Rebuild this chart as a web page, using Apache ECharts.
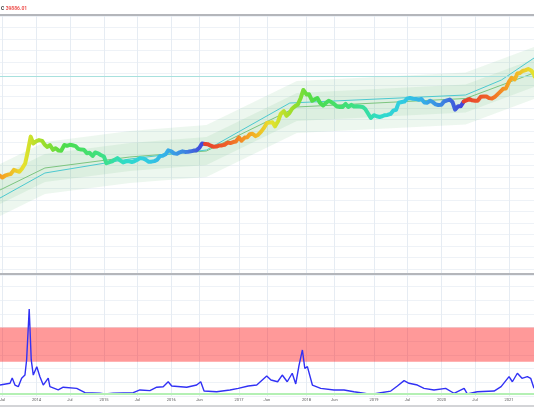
<!DOCTYPE html>
<html>
<head>
<meta charset="utf-8">
<title>BTC cycle chart</title>
<script src="https://cdn.jsdelivr.net/npm/echarts@6/dist/echarts.min.js"></script>
<style>
  html, body { margin: 0; padding: 0; background: #ffffff; }
  #chart { width: 534px; height: 419px; }
</style>
</head>
<body>
<div id="chart"></div>
<script>
// visible time window
var axisStart = '2013-06-18';
var axisEnd = '2021-05-16';

// time axis labels
var tickDates = ['2013-07-01', '2014-01-01', '2014-07-01', '2015-01-01', '2015-07-01', '2016-01-01',
  '2016-06-01', '2017-01-01', '2017-06-01', '2018-01-01', '2018-06-01', '2019-01-01',
  '2019-07-01', '2020-01-01', '2020-07-01', '2021-01-01'];
var tickLabels = ['Jul', '2014', 'Jul', '2015', 'Jul', '2016', 'Jun', '2017', 'Jun', '2018', 'Jun', '2019',
  'Jul', '2020', 'Jul', '2021'];

// halving dates, used for the rainbow colouring of price
var halvings = ['2012-11-28', '2016-07-09', '2020-05-11', '2024-04-20'];

// price, 1st and 15th of each month
var price2013 = [100, 88, 98, 105, 108, 140, 132, 125, 150, 205, 420, 1050, 690];
var price2014 = [800, 850, 810, 640, 560, 630, 470, 520, 450, 447, 630, 600,
  640, 620, 590, 500, 477, 475, 385, 395, 325, 400, 380, 345];
var price2015 = [315, 210, 225, 235, 260, 285, 245, 220, 235, 237, 225, 235,
  258, 285, 280, 260, 228, 230, 238, 255, 325, 330, 360, 455];
var price2016 = [430, 380, 370, 405, 430, 415, 417, 430, 450, 455, 535, 690,
  675, 665, 605, 570, 575, 608, 615, 640, 730, 710, 755, 780];
var price2017 = [1000, 820, 990, 1010, 1220, 1250, 1080, 1180, 1420, 1750, 2400, 2450,
  2500, 1950, 2720, 4200, 4900, 3700, 4400, 5700, 6700, 7300, 10900, 17700];
var price2018 = [13500, 13600, 9200, 10100, 10900, 8200, 6900, 8000, 9200, 8500, 7500, 6500,
  6350, 6300, 7600, 6300, 7200, 6500, 6600, 6500, 6350, 5600, 4200, 3250];
var price2019 = [3850, 3600, 3450, 3600, 3850, 3900, 4150, 5050, 5350, 8200, 8550, 8800,
  10600, 10900, 10400, 10300, 9750, 10300, 8300, 8150, 9200, 8500, 7400, 7100];
var price2020 = [7200, 8800, 9400, 9900, 8550, 5350, 6650, 6650, 8800, 9400, 10200, 9450,
  9230, 9200, 11800, 11900, 11900, 10800, 10600, 11500, 13750, 16000, 19100, 19400];
var price2021 = [29400, 36800, 33500, 48000, 49600, 56000, 59000, 63000, 57800, 46700];
var lastDate = '2021-05-19';
var lastClose = 39886.01;

// channel around price (kinks of the model)
var bandDates = ['2013-06-18', '2014-02-16', '2015-05-21', '2016-07-09', '2017-11-10', '2020-05-11', '2021-05-16'];
var bandMid = [41.3, 156.6, 305, 438.5, 6310, 10570, 49500];
var bandOuterHigh = [200, 757, 1472, 2118, 30480, 51050, 239300];
var bandInnerHigh = [96.4, 365.6, 711, 1023, 14720, 24660, 115600];
var bandInnerLow = [17.7, 67.1, 130.6, 187.9, 2704, 4529, 21230];
var bandOuterLow = [8.55, 32.4, 63.1, 90.8, 1306, 2188, 10250];

var tealDates = ['2013-06-18', '2014-02-16', '2015-05-21', '2016-07-09', '2017-10-03', '2020-05-11', '2020-11-21', '2021-05-16'];
var tealValues = [25.4, 115.6, 270, 466, 8035, 13060, 32400, 122800];

// lower pane oscillator
var oscDates = ['2013-06-18', '2013-08-11', '2013-08-23', '2013-09-07', '2013-09-25', '2013-10-13', '2013-10-31',
  '2013-11-09', '2013-11-23', '2013-12-04', '2013-12-15', '2014-01-03', '2014-01-20', '2014-02-07', '2014-03-06',
  '2014-03-15', '2014-04-29', '2014-05-26', '2014-08-07', '2014-09-21', '2014-12-10', '2015-01-07', '2015-02-21',
  '2015-06-09', '2015-07-15', '2015-09-07', '2015-10-14', '2015-11-18', '2015-12-15', '2016-01-03', '2016-03-24',
  '2016-05-17', '2016-06-08', '2016-06-26', '2016-09-02', '2016-11-13', '2016-12-28', '2017-02-20', '2017-04-07',
  '2017-05-31', '2017-06-23', '2017-07-29', '2017-08-23', '2017-09-19', '2017-10-16', '2017-11-04', '2017-11-22',
  '2017-12-10', '2017-12-23', '2018-01-06', '2018-02-02', '2018-03-19', '2018-05-30', '2018-07-23', '2018-09-15',
  '2018-11-08', '2018-12-15', '2019-02-07', '2019-04-02', '2019-05-08', '2019-06-13', '2019-07-10', '2019-08-24',
  '2019-09-29', '2019-11-22', '2020-01-24', '2020-03-09', '2020-05-03', '2020-05-20', '2020-07-13', '2020-10-12',
  '2020-11-19', '2021-01-01', '2021-01-19', '2021-02-15', '2021-03-12', '2021-04-10', '2021-04-28', '2021-05-16'];
var oscValues = [0.80, 0.93, 1.31, 0.80, 0.68, 1.29, 1.53, 2.63, 6.35, 2.63, 1.53, 2.14, 1.41, 0.80, 1.31,
  0.68, 0.44, 0.64, 0.56, 0.24, 0.20, 0.15, 0.20, 0.24, 0.44, 0.39, 0.64, 0.68, 1.04, 0.73, 0.64,
  0.80, 1.04, 0.36, 0.31, 0.44, 0.56, 0.73, 0.80, 1.46, 1.17, 1.04, 1.53, 1.04, 1.66, 0.88, 2.26,
  3.36, 2.02, 2.14, 0.80, 0.56, 0.44, 0.44, 0.31, 0.20, 0.12, 0.24, 0.36, 0.73, 1.12, 0.93, 0.80,
  0.56, 0.44, 0.56, 0.20, 0.56, 0.15, 0.31, 0.36, 0.68, 1.41, 1.04, 1.66, 1.29, 1.41, 1.29, 0.56];
var oscZone = [2.5, 5];
var oscBase = 0.15;

// cycle colours, start of halving cycle -> end
var rainbow = ['#e8412c', '#ef6329', '#f5a623', '#e6e22e', '#9ade2c', '#4bdd4b', '#45df6a',
  '#3ce08a', '#2fdcc8', '#30cde0', '#35b0e8', '#3d7fe0', '#4338d8'];
var vGridColor = '#e6ecf3';
var hGridColor = '#eef2f7';
var borderColor = '#b4b6bb';

// dates parsed as local time
function ts(s) {
  var p = s.split('-');
  return new Date(+p[0], +p[1] - 1, +p[2]).getTime();
}
function pad(n) { return n < 10 ? '0' + n : '' + n; }

var priceValues = [].concat(price2013, price2014, price2015, price2016, price2017,
  price2018, price2019, price2020, price2021);
var priceDates = [];
for (var yr = 2013; yr <= 2021; yr++) {
  for (var mo = 1; mo <= 12; mo++) {
    [1, 15].forEach(function (dy) {
      var s = yr + '-' + pad(mo) + '-' + pad(dy);
      if (s >= '2013-06-15' && s <= '2021-05-15') priceDates.push(s);
    });
  }
}
if (priceDates.length !== priceValues.length) console.error('price length', priceDates.length, priceValues.length);

var pricePoints = priceDates.map(function (d, i) { return [ts(d), priceValues[i]]; });
pricePoints.push([ts(lastDate), lastClose]);

// points of one halving cycle, plus the point just before so segments join
function cyclePoints(i) {
  var a = ts(halvings[i]), b = ts(halvings[i + 1]);
  var pts = [];
  for (var k = 0; k < pricePoints.length; k++) {
    var t = pricePoints[k][0];
    var next = k + 1 < pricePoints.length ? pricePoints[k + 1][0] : Infinity;
    if (t <= b && next >= a) pts.push(pricePoints[k]);
  }
  return pts;
}

function renderBands(params, api) {
  if (params.dataIndex !== 0) return null;
  var children = [];
  [[bandOuterHigh, bandOuterLow], [bandInnerHigh, bandInnerLow]].forEach(function (pair) {
    var pts = [];
    for (var i = 0; i < bandDates.length; i++) pts.push(api.coord([ts(bandDates[i]), pair[0][i]]));
    for (var j = bandDates.length - 1; j >= 0; j--) pts.push(api.coord([ts(bandDates[j]), pair[1][j]]));
    children.push({ type: 'polygon', shape: { points: pts }, style: { fill: 'rgba(80,180,100,0.1)' } });
  });
  return { type: 'group', children: children };
}

var tickTs = tickDates.map(ts);
function tickFormatter(v) {
  for (var i = 0; i < tickTs.length; i++) {
    if (Math.abs(tickTs[i] - v) < 1000) return tickLabels[i];
  }
  return '';
}

var chart = echarts.init(document.getElementById('chart'), null, { renderer: 'canvas' });

var priceSeries = [0, 1, 2].map(function (i) {
  return {
    name: 'price' + i,
    type: 'line',
    xAxisIndex: 0,
    yAxisIndex: 0,
    data: cyclePoints(i),
    symbol: 'none',
    lineStyle: { width: 4, cap: 'round', join: 'round' },
    z: 5,
    silent: true
  };
});

var visualMaps = [0, 1, 2].map(function (i) {
  return {
    type: 'continuous',
    show: false,
    seriesIndex: i + 1,
    dimension: 0,
    min: ts(halvings[i]),
    max: ts(halvings[i + 1]),
    inRange: { color: rainbow },
    outOfRange: { color: rainbow[rainbow.length - 1] }
  };
});

chart.setOption({
  animation: false,
  backgroundColor: '#ffffff',
  title: {
    left: -3,
    top: 6,
    padding: 0,
    text: '{v|1 }{c|C }{v|' + lastClose.toFixed(2) + '}',
    textStyle: {
      fontSize: 5,
      lineHeight: 6,
      rich: {
        v: { color: '#ef5350', fontSize: 5, lineHeight: 6, fontFamily: 'Roboto' },
        c: { color: '#333333', fontSize: 5, lineHeight: 6, fontFamily: 'Roboto' }
      }
    }
  },
  grid: [
    { left: 0, right: 0, top: 15, height: 259, outerBoundsMode: 'none', containLabel: false },
    { left: 0, right: 0, top: 275, height: 121, outerBoundsMode: 'none', containLabel: false },
    { left: 0, right: 0, top: 15.8, height: 253, outerBoundsMode: 'none', containLabel: false }
  ],
  xAxis: [
    {
      gridIndex: 0, type: 'value', min: ts(axisStart), max: ts(axisEnd),
      axisLine: { show: true, onZero: false, lineStyle: { color: borderColor, width: 2 } },
      axisTick: { show: false, customValues: tickTs },
      axisLabel: { show: false },
      splitLine: { show: true, lineStyle: { color: vGridColor, width: 1 } }
    },
    {
      gridIndex: 1, type: 'value', min: ts(axisStart), max: ts(axisEnd),
      axisLine: { show: false, onZero: false },
      axisTick: { show: false, customValues: tickTs },
      axisLabel: {
        customValues: tickTs, formatter: tickFormatter, fontSize: 4, margin: 2,
        color: '#555555', fontFamily: 'Roboto'
      },
      splitLine: { show: true, lineStyle: { color: vGridColor, width: 1 } }
    },
    { gridIndex: 2, type: 'value', show: false },
    {
      gridIndex: 0, type: 'value', position: 'top',
      axisLine: { show: true, onZero: false, lineStyle: { color: borderColor, width: 2 } },
      axisTick: { show: false }, axisLabel: { show: false }, splitLine: { show: false }
    },
    {
      gridIndex: 1, type: 'value', position: 'bottom', offset: 10,
      axisLine: { show: true, onZero: false, lineStyle: { color: '#c4c6ca', width: 1.5 } },
      axisTick: { show: false }, axisLabel: { show: false }, splitLine: { show: false }
    }
  ],
  yAxis: [
    { gridIndex: 0, type: 'log', min: 0.2543, max: 1663600, show: false },
    {
      gridIndex: 1, type: 'value', min: 0, max: 8.832, interval: 1,
      axisLine: { show: false }, axisTick: { show: false }, axisLabel: { show: false },
      splitLine: { show: true, lineStyle: { color: hGridColor, width: 1 } }
    },
    {
      gridIndex: 2, type: 'value', min: 0, max: 22, interval: 1,
      axisLine: { show: false }, axisTick: { show: false }, axisLabel: { show: false },
      splitLine: { show: true, lineStyle: { color: hGridColor, width: 1 } }
    }
  ],
  visualMap: visualMaps,
  series: [
    {
      name: 'bands',
      type: 'custom',
      xAxisIndex: 0,
      yAxisIndex: 0,
      renderItem: renderBands,
      data: bandDates.map(function (d, i) { return [ts(d), bandMid[i]]; }),
      clip: true,
      silent: true,
      z: 1
    }
  ].concat(priceSeries, [
    {
      name: 'mid',
      type: 'line',
      xAxisIndex: 0,
      yAxisIndex: 0,
      data: bandDates.map(function (d, i) { return [ts(d), bandMid[i]]; }),
      symbol: 'none',
      lineStyle: { color: '#7cc47f', width: 1 },
      silent: true,
      z: 3
    },
    {
      name: 'teal',
      type: 'line',
      xAxisIndex: 0,
      yAxisIndex: 0,
      data: tealDates.map(function (d, i) { return [ts(d), tealValues[i]]; }),
      symbol: 'none',
      lineStyle: { color: '#4cc9cf', width: 1 },
      silent: true,
      z: 3,
      markLine: {
        symbol: 'none',
        silent: true,
        label: { show: false },
        lineStyle: { color: '#a8e1de', width: 1, type: 'solid' },
        data: [{ yAxis: lastClose }]
      }
    },
    {
      name: 'osc',
      type: 'line',
      xAxisIndex: 1,
      yAxisIndex: 1,
      data: oscDates.map(function (d, i) { return [ts(d), oscValues[i]]; }),
      symbol: 'none',
      lineStyle: { color: '#3131f5', width: 1.4 },
      silent: true,
      z: 3,
      markLine: {
        symbol: 'none',
        silent: true,
        label: { show: false },
        lineStyle: { color: '#b4f0b4', width: 2, type: 'solid' },
        data: [[{ xAxis: ts(axisStart), yAxis: oscBase }, { xAxis: ts(axisEnd), yAxis: oscBase }]]
      }
    },
    {
      name: 'zone',
      type: 'line',
      xAxisIndex: 1,
      yAxisIndex: 1,
      data: [[ts(axisStart), oscBase]],
      symbol: 'none',
      lineStyle: { opacity: 0 },
      silent: true,
      z: 6,
      markArea: {
        silent: true,
        itemStyle: { color: 'rgba(255,0,0,0.4)' },
        data: [[{ xAxis: ts(axisStart), yAxis: oscZone[0] }, { xAxis: ts(axisEnd), yAxis: oscZone[1] }]]
      }
    }
  ])
});
</script>
</body>
</html>
